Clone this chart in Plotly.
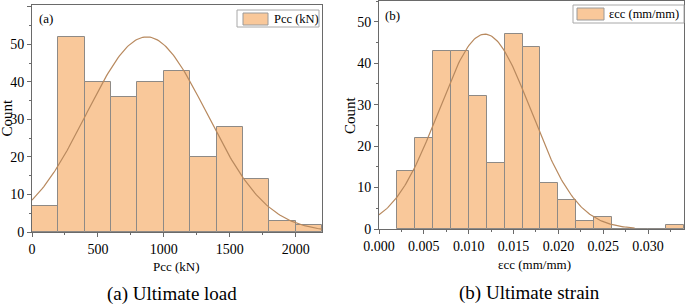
import numpy as np
import plotly.graph_objects as go

# ---- data ----
load_bin_start = [0, 200, 400, 600, 800, 1000, 1200, 1400, 1600, 1800, 2000]
load_counts = [7, 52, 40, 36, 40, 43, 20, 28, 14, 3, 2]
load_bin_width = 200
load_fit_mean = 870
load_fit_sd = 457
load_fit_peak = 52

strain_bin_start = [0.002, 0.004, 0.006, 0.008, 0.010, 0.012, 0.014, 0.016,
                    0.018, 0.020, 0.022, 0.024, 0.026, 0.028, 0.030, 0.032]
strain_counts = [14, 22, 43, 43, 32, 16, 47, 44, 11, 7, 2, 3, 0, 0, 0, 1]
strain_bin_width = 0.002
strain_fit_mean = 0.0118
strain_fit_sd = 0.00515
strain_fit_peak = 47

left_xticks = [0, 500, 1000, 1500, 2000]
right_xticks = [0.000, 0.005, 0.010, 0.015, 0.020, 0.025, 0.030]
right_xticklabels = ["0.000", "0.005", "0.010", "0.015", "0.020", "0.025", "0.030"]
series_names = ["Pcc (kN)", "εcc (mm/mm)"]

BAR = "#F9C89A"
BAR_LINE = "#8E8A86"
CURVE = "#B8895E"
FRAME = "#6A6A6A"
FONT = "Liberation Serif, Times New Roman, serif"

W, H = 685, 305

def px_x(p):
    return p / W

def px_y(p):
    return 1 - p / H

fig = go.Figure()

fig.add_trace(go.Bar(
    x=[s + load_bin_width / 2 for s in load_bin_start], y=load_counts,
    width=load_bin_width, marker=dict(color=BAR, line=dict(color=BAR_LINE, width=1)),
    name=series_names[0], xaxis="x", yaxis="y", showlegend=False))
xl = np.linspace(0, 2200, 200)
fig.add_trace(go.Scatter(
    x=xl, y=load_fit_peak * np.exp(-(xl - load_fit_mean) ** 2 / (2 * load_fit_sd ** 2)),
    mode="lines", line=dict(color=CURVE, width=1.2), showlegend=False,
    xaxis="x", yaxis="y", hoverinfo="skip"))

fig.add_trace(go.Bar(
    x=[s + strain_bin_width / 2 for s in strain_bin_start], y=strain_counts,
    width=strain_bin_width, marker=dict(color=BAR, line=dict(color=BAR_LINE, width=1)),
    name=series_names[1], xaxis="x2", yaxis="y2", showlegend=False))
xs = np.linspace(0, 0.0285, 200)
fig.add_trace(go.Scatter(
    x=xs, y=strain_fit_peak * np.exp(-(xs - strain_fit_mean) ** 2 / (2 * strain_fit_sd ** 2)),
    mode="lines", line=dict(color=CURVE, width=1.2), showlegend=False,
    xaxis="x2", yaxis="y2", hoverinfo="skip"))

axis_common = dict(showgrid=False, zeroline=False, showline=True, linecolor=FRAME,
                   linewidth=1, mirror=True, ticks="outside", ticklen=4, tickcolor=FRAME,
                   automargin=False,
                   tickfont=dict(family=FONT, size=14, color="black"))

fig.update_layout(
    width=W, height=H, margin=dict(l=0, r=0, t=0, b=0, autoexpand=False),
    paper_bgcolor="white", plot_bgcolor="white", bargap=0,
    font=dict(family=FONT, color="black"),
    showlegend=False,
    xaxis=dict(domain=[px_x(32), px_x(322)], range=[0, 2200], anchor="y",
               tickvals=left_xticks,
               minor=dict(ticks="outside", ticklen=2, dtick=250, tickcolor=FRAME),
               **axis_common),
    yaxis=dict(domain=[px_y(232), px_y(5)], range=[0, 60.5], anchor="x",
               dtick=10, minor=dict(ticks="outside", ticklen=2, dtick=5, tickcolor=FRAME),
               **axis_common),
    xaxis2=dict(domain=[px_x(379), px_x(684)], range=[0, 0.034], anchor="y2",
                tickvals=right_xticks, ticktext=right_xticklabels,
                minor=dict(ticks="outside", ticklen=2, dtick=0.0025, tickcolor=FRAME),
                **axis_common),
    yaxis2=dict(domain=[px_y(229), px_y(1)], range=[0, 55], anchor="x2",
                dtick=10, minor=dict(ticks="outside", ticklen=2, dtick=5, tickcolor=FRAME),
                **axis_common),
)

# legend boxes (drawn as shapes + real text)
legend_boxes = [
    dict(box=(237, 10, 319, 27), swatch=(243, 13, 268, 25), tx=272, name=series_names[0]),
    dict(box=(573, 5, 684, 23), swatch=(577, 8, 604, 20), tx=607, name=series_names[1]),
]
for lb in legend_boxes:
    x0, y0, x1, y1 = lb["box"]
    fig.add_shape(type="rect", xref="paper", yref="paper",
                  x0=px_x(x0), x1=px_x(x1), y0=px_y(y1), y1=px_y(y0),
                  line=dict(color="#A8A8A8", width=1), fillcolor="white")
    sx0, sy0, sx1, sy1 = lb["swatch"]
    fig.add_shape(type="rect", xref="paper", yref="paper",
                  x0=px_x(sx0), x1=px_x(sx1), y0=px_y(sy1), y1=px_y(sy0),
                  line=dict(color="#9A9A9A", width=1), fillcolor=BAR)
    fig.add_annotation(text=lb["name"], x=px_x(lb["tx"]), y=px_y((y0 + y1) / 2),
                       xref="paper", yref="paper", xanchor="left", yanchor="middle",
                       showarrow=False, font=dict(family=FONT, size=12.5, color="black"))

ann = [
    dict(text="(a)", x=px_x(37), y=px_y(18), xanchor="left", yanchor="middle", size=13),
    dict(text="(b)", x=px_x(383), y=px_y(15), xanchor="left", yanchor="middle", size=13),
    dict(text="Pcc (kN)", x=px_x(176), y=px_y(266), xanchor="center", yanchor="middle", size=13),
    dict(text="εcc (mm/mm)", x=px_x(534), y=px_y(264), xanchor="center", yanchor="middle", size=13),
    dict(text="(a) Ultimate load", x=px_x(172), y=px_y(294), xanchor="center", yanchor="middle", size=19),
    dict(text="(b) Ultimate strain", x=px_x(529), y=px_y(293), xanchor="center", yanchor="middle", size=19),
]
for a in ann:
    fig.add_annotation(text=a["text"], x=a["x"], y=a["y"], xref="paper", yref="paper",
                       xanchor=a["xanchor"], yanchor=a["yanchor"], showarrow=False,
                       font=dict(family=FONT, size=a["size"], color="black"))

fig.add_annotation(text="Count", x=px_x(6.5), y=px_y(118), xref="paper", yref="paper",
                   textangle=-90, showarrow=False, xanchor="center", yanchor="middle",
                   font=dict(family=FONT, size=15, color="black"))
fig.add_annotation(text="Count", x=px_x(350), y=px_y(115), xref="paper", yref="paper",
                   textangle=-90, showarrow=False, xanchor="center", yanchor="middle",
                   font=dict(family=FONT, size=15, color="black"))

fig.write_html("out.html", config={"displayModeBar": False},
               post_script="document.body.style.margin='0px';document.body.style.overflow='hidden';")
